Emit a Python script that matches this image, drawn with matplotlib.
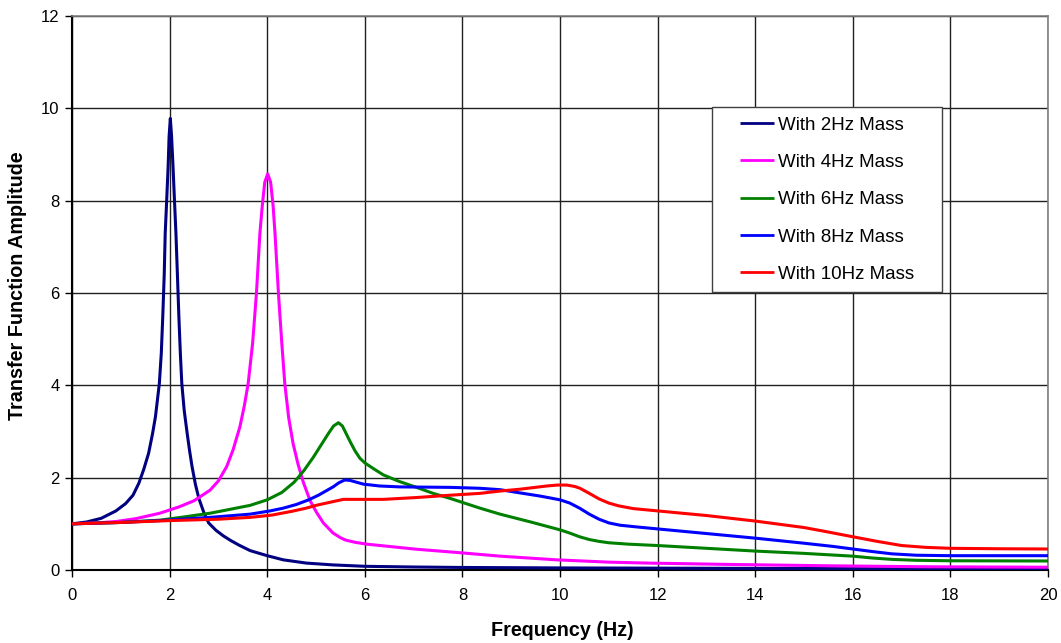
import matplotlib
matplotlib.use("Agg")
import matplotlib.pyplot as plt
from matplotlib.lines import Line2D
from matplotlib.legend_handler import HandlerLine2D

plt.rcParams['font.family'] = ['Liberation Sans', 'DejaVu Sans']

# ---- data ----
x_2hz = [0, 0.3, 0.6, 0.9, 1.1, 1.25, 1.37, 1.47, 1.57, 1.65, 1.71, 1.79, 1.83, 1.86,
         1.89, 1.91, 1.94, 1.97, 1.99, 2.015, 2.04, 2.07, 2.10, 2.13, 2.16, 2.19, 2.22,
         2.25, 2.30, 2.36, 2.41, 2.46, 2.53, 2.6, 2.7, 2.8, 2.95, 3.1, 3.25, 3.42,
         3.65, 4.0, 4.33, 4.8, 5.35, 6.0, 7.0, 8.0, 10, 12, 14, 16, 18, 20]
y_2hz = [1.0, 1.04, 1.12, 1.28, 1.44, 1.62, 1.88, 2.18, 2.53, 2.95, 3.32, 4.04, 4.7, 5.49,
         6.4, 7.29, 8.0, 8.74, 9.4, 9.78, 9.4, 8.74, 8.0, 7.29, 6.4, 5.49, 4.7,
         4.04, 3.45, 2.96, 2.58, 2.24, 1.85, 1.55, 1.25, 1.02, 0.86, 0.74, 0.64, 0.54,
         0.42, 0.31, 0.22, 0.15, 0.11, 0.08, 0.065, 0.055, 0.045, 0.04, 0.035, 0.03, 0.03, 0.03]

x_4hz = [0, 0.5, 0.9, 1.3, 1.8, 2.2, 2.5, 2.83, 3.0, 3.17, 3.3, 3.44, 3.53, 3.61, 3.70,
         3.78, 3.85, 3.90, 3.95, 4.01, 4.07, 4.12, 4.16, 4.23, 4.30, 4.36, 4.44, 4.53,
         4.63, 4.74, 4.88, 5.01, 5.15, 5.35, 5.5, 5.6, 5.8, 6.04, 6.5, 7.06, 8.0, 8.77,
         9.93, 11.0, 11.8, 13.5, 15.6, 17.5, 20]
y_4hz = [1.0, 1.02, 1.05, 1.11, 1.23, 1.37, 1.50, 1.73, 1.93, 2.24, 2.6, 3.1, 3.55, 4.04, 4.9,
         6.0, 7.29, 7.9, 8.4, 8.58, 8.4, 7.9, 7.29, 6.0, 4.9, 4.04, 3.3, 2.74,
         2.3, 1.9, 1.5, 1.25, 1.02, 0.80, 0.70, 0.65, 0.60, 0.56, 0.51, 0.45, 0.37, 0.30,
         0.22, 0.17, 0.15, 0.12, 0.09, 0.07, 0.06]

x_6hz = [0, 1, 1.8, 2.3, 2.83, 3.17, 3.65, 4.0, 4.3, 4.55, 4.75, 4.95, 5.1, 5.25, 5.36,
         5.46, 5.54, 5.62, 5.70, 5.8, 5.9, 6.0, 6.2, 6.38, 6.7, 7.06, 7.4, 7.75, 8.36,
         8.77, 9.4, 10.0, 10.2, 10.4, 10.6, 10.8, 11.0, 11.4, 12.0, 13.0, 14.0, 15.0,
         16.0, 16.4, 16.8, 17.3, 18.0, 20]
y_6hz = [1.0, 1.03, 1.08, 1.15, 1.23, 1.30, 1.40, 1.52, 1.68, 1.90, 2.15, 2.45, 2.70, 2.95, 3.12,
         3.19, 3.12, 2.95, 2.78, 2.58, 2.42, 2.32, 2.18, 2.06, 1.92, 1.79, 1.66, 1.55, 1.34,
         1.21, 1.04, 0.87, 0.80, 0.72, 0.66, 0.62, 0.59, 0.56, 0.53, 0.47, 0.41, 0.36,
         0.30, 0.26, 0.23, 0.21, 0.20, 0.195]

x_8hz = [0, 1, 1.8, 2.83, 3.65, 4.06, 4.33, 4.6, 4.85, 5.05, 5.2, 5.35, 5.47, 5.59, 5.7,
         5.8, 5.97, 6.3, 6.72, 7.75, 8.36, 8.77, 9.18, 9.6, 10.0, 10.2, 10.4, 10.6, 10.8,
         11.0, 11.23, 11.6, 12.0, 13.0, 14.0, 15.0, 15.6, 16.0, 16.4, 16.8, 17.3, 18.0, 20]
y_8hz = [1.0, 1.03, 1.07, 1.14, 1.21, 1.28, 1.34, 1.42, 1.52, 1.62, 1.71, 1.80, 1.89, 1.95, 1.94,
         1.91, 1.86, 1.82, 1.80, 1.79, 1.77, 1.74, 1.67, 1.60, 1.52, 1.45, 1.34, 1.21, 1.10,
         1.02, 0.97, 0.93, 0.89, 0.79, 0.69, 0.58, 0.51, 0.455, 0.40, 0.35, 0.32, 0.31, 0.31]

x_10hz = [0, 1, 2, 3, 3.65, 4.1, 4.5, 4.8, 5.0, 5.3, 5.56, 5.8, 6.38, 7.06, 7.75, 8.36,
          8.77, 9.18, 9.73, 9.95, 10.14, 10.3, 10.41, 10.6, 10.8, 11.0, 11.2, 11.5, 12.0,
          13.0, 14.0, 14.5, 15.0, 15.46, 16.0, 16.5, 17.0, 17.5, 18.0, 19.0, 20]
y_10hz = [1.0, 1.03, 1.07, 1.10, 1.14, 1.19, 1.27, 1.34, 1.40, 1.47, 1.53, 1.53, 1.53, 1.57, 1.62, 1.66,
          1.71, 1.75, 1.82, 1.84, 1.84, 1.81, 1.77, 1.66, 1.54, 1.45, 1.39, 1.33, 1.28,
          1.18, 1.06, 0.99, 0.92, 0.83, 0.72, 0.62, 0.53, 0.49, 0.47, 0.46, 0.455]

labels = ["With 2Hz Mass", "With 4Hz Mass", "With 6Hz Mass",
          "With 8Hz Mass", "With 10Hz Mass"]
colors = ["#000080", "#FF00FF", "#008000", "#0000FF", "#FF0000"]

x_ticks = [0, 2, 4, 6, 8, 10, 12, 14, 16, 18, 20]
y_ticks = [0, 2, 4, 6, 8, 10, 12]

W, H = 1061, 643


class OffsetLineHandler(HandlerLine2D):
    """Draw the legend line only in the right part of the handle box."""
    def __init__(self, frac=0.37, **kw):
        super().__init__(**kw)
        self.frac = frac

    def create_artists(self, legend, orig_handle, xdescent, ydescent, width, height,
                       fontsize, trans):
        y = height / 2.0 - ydescent
        x0 = -xdescent + width * self.frac
        x1 = -xdescent + width
        line = Line2D([x0, x1], [y, y], color=orig_handle.get_color(),
                      linewidth=2.0, solid_capstyle='butt')
        line.set_transform(trans)
        return [line]


# ---- figure ----
fig = plt.figure(figsize=(W / 100, H / 100), dpi=100)
ax = fig.add_axes([72 / W, 1 - 570 / H, (1048 - 72) / W, (570 - 16) / H])

series = [(x_2hz, y_2hz), (x_4hz, y_4hz), (x_6hz, y_6hz), (x_8hz, y_8hz), (x_10hz, y_10hz)]
handles = []
for (xs, ys), lab, col in zip(series, labels, colors):
    h, = ax.plot(xs, ys, color=col, lw=2.2, label=lab, solid_joinstyle='round', zorder=3)
    handles.append(h)

ax.set_xlim(0, 20)
ax.set_ylim(0, 12)
ax.set_xticks(x_ticks)
ax.set_yticks(y_ticks)
ax.tick_params(axis='both', direction='out', length=5, width=1, labelsize=12, color='black')
ax.tick_params(axis='x', pad=8)
ax.tick_params(axis='y', pad=4)
ax.grid(True, color='#202020', lw=1.0, zorder=1)
ax.set_axisbelow(True)

for side in ['top', 'right']:
    ax.spines[side].set_color('#808080')
    ax.spines[side].set_linewidth(1.2)
ax.spines['left'].set_color('black')
ax.spines['left'].set_linewidth(1.5)
ax.spines['bottom'].set_color('black')
ax.spines['bottom'].set_linewidth(1.5)

fig.text(562 / W, 1 - 630 / H, "Frequency (Hz)", fontsize=14.2, fontweight='bold',
         ha='center', va='center')
fig.text(18 / W, 1 - 286 / H, "Transfer Function Amplitude", fontsize=14.2,
         fontweight='bold', rotation=90, ha='center', va='center')

# legend box in axes coordinates
lx0 = (712 - 72) / 976
ly1 = (570 - 107) / 554
lw_ = (942 - 712) / 976
lh_ = (293 - 107) / 554
leg = ax.legend(handles=handles, labels=labels, loc='upper left',
                bbox_to_anchor=(lx0, ly1 - lh_, lw_, lh_), mode='expand',
                fontsize=13.5, frameon=True, fancybox=False, framealpha=1,
                edgecolor='#404040', borderpad=0.5, labelspacing=1.08,
                handlelength=2.82, handletextpad=0.2, borderaxespad=0,
                handler_map={Line2D: OffsetLineHandler(frac=0.36)})
leg.get_frame().set_linewidth(1.0)

fig.savefig("out.png", dpi=100, facecolor='white')
